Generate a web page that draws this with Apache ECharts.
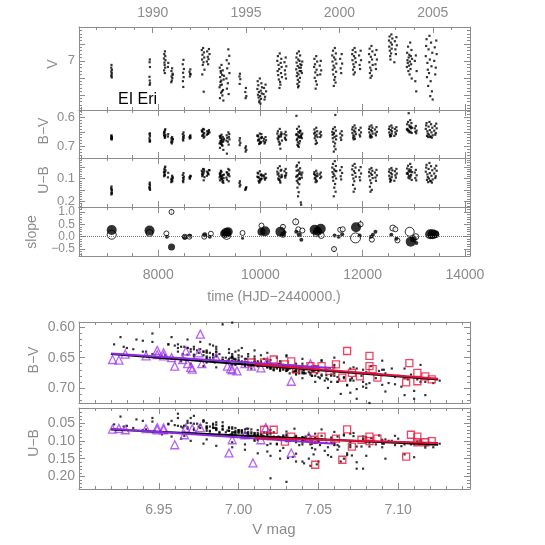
<!DOCTYPE html>
<html>
<head>
<meta charset="utf-8">
<title>EI Eri</title>
<script src="https://cdn.jsdelivr.net/npm/echarts@6/dist/echarts.min.js"></script>
<style>
  html, body { margin: 0; padding: 0; background: #fff; }
  #chart { width: 545px; height: 545px; }
</style>
</head>
<body>
<div id="chart"></div>
<script>
// observations per season: [HJD-2440000, V, B-V, U-B]
const s1987 = [[7086,7.012,0.662,0.135],[7081,7.020,0.665,0.142],[7093,7.026,0.668,0.150],[7084,7.031,0.670,0.148],[7090,7.036,0.672,0.158],[7088,7.041,0.671,0.163],[7083,7.045,0.675,0.170],[7092,7.049,0.676,0.166]];
const s1989 = [[7836,6.996,0.655,0.118],[7831,7.004,0.658,0.125],[7838,7.018,0.664,0.130],[7829,7.047,0.672,0.138],[7834,7.058,0.678,0.145],[7840,7.066,0.682,0.150],[7832,7.071,0.684,0.141]];
const s1990 = [[8131,6.972,0.645,0.052],[8118,6.980,0.650,0.060],[8138,6.986,0.641,0.048],[8112,6.993,0.655,0.071],[8142,6.998,0.660,0.064],[8121,7.005,0.652,0.078],[8126,7.012,0.664,0.083],[8135,7.020,0.668,0.070],[8115,7.028,0.662,0.090],[8129,7.036,0.671,0.086],[8196,7.006,0.658,0.075],[8190,7.018,0.666,0.095],[8272,7.022,0.668,0.088],[8258,7.030,0.672,0.101],[8281,7.038,0.676,0.094],[8262,7.046,0.680,0.108],[8276,7.051,0.684,0.112],[8266,7.058,0.690,0.105],[8255,7.063,0.686,0.116],[8284,7.041,0.675,0.099]];
const s1991 = [[8494,6.997,0.652,0.076],[8480,7.010,0.658,0.085],[8502,7.024,0.663,0.092],[8486,7.035,0.667,0.098],[8498,7.048,0.671,0.104],[8483,7.060,0.676,0.110],[8490,7.077,0.680,0.116],[8628,7.025,0.662,0.088],[8612,7.032,0.668,0.095],[8634,7.040,0.670,0.090],[8618,7.046,0.673,0.101],[8624,7.038,0.665,0.094]];
const s1992 = [[8878,6.962,0.640,0.058],[8852,6.968,0.645,0.066],[8895,6.975,0.642,0.060],[8866,6.982,0.650,0.072],[8900,6.990,0.654,0.068],[8858,6.996,0.648,0.080],[8886,7.004,0.658,0.077],[8872,7.012,0.662,0.085],[8905,7.026,0.666,0.094],[8862,7.040,0.664,0.090],[8890,7.091,0.670,0.108],[8992,6.965,0.644,0.063],[8958,6.972,0.648,0.070],[9004,6.980,0.652,0.064],[8970,6.988,0.656,0.075],[8984,6.995,0.650,0.082],[8952,7.002,0.660,0.088],[8976,7.010,0.657,0.079]];
const s1993 = [[9238,7.012,0.660,0.070],[9204,7.020,0.665,0.078],[9262,7.028,0.668,0.085],[9226,7.035,0.672,0.066],[9250,7.041,0.676,0.092],[9212,7.048,0.670,0.080],[9280,7.055,0.679,0.098],[9218,7.062,0.682,0.088],[9244,7.070,0.686,0.104],[9200,7.078,0.690,0.095],[9268,7.086,0.684,0.110],[9230,7.094,0.692,0.100],[9256,7.102,0.698,0.115],[9208,7.110,0.705,0.108],[9274,7.117,0.712,0.119],[9222,7.030,0.664,0.074],[9286,7.044,0.674,0.083],[9234,7.058,0.680,0.091],[9216,7.072,0.688,0.087],[9248,7.090,0.695,0.102],[9372,6.966,0.652,0.058],[9390,6.985,0.658,0.064],[9340,6.998,0.662,0.072],[9382,7.008,0.668,0.080],[9350,7.022,0.671,0.076],[9394,7.036,0.676,0.090],[9334,7.052,0.680,0.096],[9362,7.066,0.684,0.085],[9344,7.082,0.725,0.105],[9378,7.098,0.694,0.112]];
const s1994 = [[9598,7.038,0.672,0.112],[9590,7.046,0.680,0.120],[9606,7.054,0.688,0.128],[9594,7.068,0.696,0.135],[9716,7.080,0.700,0.142],[9704,7.092,0.706,0.150],[9724,7.104,0.712,0.138],[9710,7.110,0.718,0.146]];
const s1995 = [[9988,7.052,0.656,0.068],[9946,7.060,0.662,0.075],[10018,7.066,0.658,0.082],[9958,7.072,0.666,0.078],[10030,7.078,0.670,0.088],[9940,7.083,0.664,0.092],[10006,7.088,0.672,0.085],[9970,7.092,0.676,0.096],[10024,7.096,0.668,0.100],[9952,7.100,0.680,0.094],[9994,7.104,0.684,0.104],[9964,7.108,0.678,0.110],[10012,7.112,0.686,0.102],[9982,7.117,0.690,0.114],[9976,7.122,0.692,0.118],[10000,7.126,0.688,0.108],[10100,7.070,0.668,0.080],[10070,7.080,0.674,0.090],[10110,7.090,0.679,0.097],[10060,7.098,0.682,0.086],[10090,7.106,0.686,0.105],[10080,7.114,0.690,0.099]];
const s1996 = [[10378,6.978,0.640,0.046],[10342,6.986,0.648,0.055],[10408,6.994,0.652,0.062],[10330,7.000,0.656,0.070],[10396,7.006,0.660,0.066],[10354,7.012,0.664,0.078],[10414,7.018,0.658,0.084],[10366,7.024,0.668,0.090],[10336,7.030,0.672,0.082],[10402,7.036,0.666,0.095],[10348,7.042,0.676,0.100],[10420,7.048,0.680,0.092],[10360,7.055,0.684,0.106],[10384,7.062,0.690,0.112],[10390,7.070,0.708,0.118],[10372,7.080,0.694,0.104],[10494,6.990,0.650,0.058],[10470,7.004,0.658,0.068],[10505,7.016,0.662,0.076],[10478,7.028,0.670,0.088],[10486,7.040,0.674,0.096],[10500,7.052,0.678,0.086]];
const s1997 = [[10752,6.972,0.632,0.030],[10716,6.978,0.640,0.042],[10776,6.984,0.646,0.055],[10704,6.990,0.595,0.048],[10740,6.996,0.650,0.062],[10764,7.000,0.654,0.070],[10708,7.005,0.658,0.066],[10780,7.010,0.648,0.078],[10728,7.015,0.662,0.085],[10756,7.020,0.666,0.080],[10700,7.025,0.660,0.092],[10768,7.030,0.670,0.098],[10720,7.035,0.674,0.090],[10744,7.040,0.668,0.104],[10712,7.045,0.678,0.110],[10772,7.050,0.682,0.102],[10732,7.056,0.686,0.118],[10760,7.062,0.690,0.125],[10724,7.068,0.695,0.140],[10748,7.074,0.702,0.160],[10736,7.078,0.698,0.178],[10790,7.020,0.664,0.205],[10796,7.030,0.668,0.215],[10818,7.002,0.656,0.074],[10802,7.012,0.660,0.084],[10810,7.036,0.672,0.096]];
const s1998 = [[11092,6.986,0.636,0.066],[11056,6.994,0.642,0.072],[11110,7.002,0.648,0.078],[11068,7.010,0.652,0.084],[11050,7.018,0.656,0.080],[11098,7.026,0.660,0.090],[11074,7.034,0.664,0.096],[11116,7.042,0.668,0.088],[11062,7.050,0.672,0.100],[11086,7.060,0.680,0.106],[11104,7.070,0.688,0.112],[11080,7.082,0.692,0.116],[11180,7.000,0.650,0.074],[11160,7.014,0.656,0.082],[11188,7.028,0.662,0.092],[11170,7.040,0.668,0.098]];
const s1999 = [[11455,6.962,0.634,0.024],[11420,6.970,0.640,0.036],[11475,6.978,0.646,0.045],[11405,6.984,0.650,0.052],[11440,6.990,0.654,0.060],[11465,6.996,0.592,0.066],[11410,7.002,0.660,0.072],[11485,7.008,0.664,0.068],[11430,7.014,0.658,0.080],[11450,7.020,0.668,0.088],[11415,7.026,0.672,0.094],[11480,7.032,0.676,0.100],[11425,7.040,0.684,0.110],[11460,7.048,0.690,0.124],[11445,7.056,0.700,0.140],[11470,7.064,0.710,0.158],[11435,7.074,0.718,0.178],[11590,6.980,0.648,0.050],[11560,6.994,0.656,0.064],[11598,7.008,0.662,0.076],[11570,7.022,0.670,0.090],[11580,7.036,0.678,0.104]];
const s2000 = [[11842,6.962,0.628,0.036],[11806,6.968,0.634,0.044],[11860,6.974,0.638,0.052],[11795,6.980,0.642,0.060],[11830,6.986,0.646,0.068],[11854,6.992,0.650,0.076],[11800,6.998,0.654,0.084],[11866,7.004,0.658,0.092],[11818,7.010,0.662,0.100],[11836,7.018,0.666,0.112],[11812,7.026,0.670,0.128],[11848,7.034,0.674,0.145],[11824,7.040,0.676,0.158],[11960,6.970,0.636,0.050],[11930,6.984,0.644,0.064],[11968,6.998,0.652,0.078],[11940,7.012,0.660,0.094],[11950,7.024,0.666,0.108]];
const s2001 = [[12172,6.956,0.628,0.054],[12136,6.964,0.632,0.060],[12190,6.972,0.636,0.066],[12125,6.980,0.640,0.072],[12160,6.988,0.644,0.078],[12184,6.996,0.648,0.084],[12130,7.004,0.652,0.090],[12196,7.012,0.656,0.098],[12148,7.020,0.660,0.108],[12166,7.028,0.664,0.120],[12142,7.036,0.666,0.136],[12178,7.044,0.668,0.150],[12154,7.050,0.670,0.158],[12270,6.968,0.634,0.062],[12240,6.982,0.642,0.074],[12278,6.996,0.650,0.086],[12250,7.010,0.656,0.096],[12260,7.024,0.662,0.110]];
const s2002 = [[12562,6.922,0.628,0.054],[12526,6.928,0.632,0.060],[12580,6.934,0.636,0.064],[12515,6.940,0.640,0.070],[12550,6.946,0.644,0.076],[12574,6.952,0.648,0.082],[12520,6.958,0.652,0.088],[12568,6.964,0.656,0.094],[12532,6.970,0.660,0.100],[12556,6.978,0.664,0.108],[12538,6.986,0.666,0.114],[12544,6.996,0.662,0.104],[12660,6.930,0.634,0.058],[12630,6.942,0.640,0.068],[12668,6.954,0.646,0.078],[12640,6.966,0.652,0.086],[12650,6.980,0.658,0.096],[12620,7.004,0.664,0.110]];
const s2003 = [[12930,6.946,0.610,0.036],[12888,6.958,0.616,0.044],[12954,6.968,0.620,0.050],[12870,6.976,0.624,0.056],[12912,6.982,0.628,0.060],[12942,6.986,0.632,0.064],[12900,6.990,0.586,0.068],[12966,6.994,0.636,0.072],[12876,6.998,0.640,0.076],[12924,7.002,0.634,0.070],[12882,7.006,0.644,0.080],[12948,7.010,0.638,0.084],[12906,7.014,0.646,0.088],[12865,7.018,0.642,0.078],[12936,7.024,0.650,0.092],[12894,7.030,0.648,0.096],[12918,7.040,0.652,0.100],[12960,7.052,0.654,0.106],[13040,6.984,0.630,0.062],[13020,7.000,0.638,0.074],[13056,7.030,0.646,0.086],[13030,7.060,0.650,0.098],[13048,7.090,0.655,0.108]];
const s2004 = [[13306,6.926,0.616,0.032],[13250,6.936,0.620,0.040],[13338,6.946,0.624,0.046],[13242,6.956,0.628,0.052],[13290,6.966,0.632,0.058],[13362,6.976,0.636,0.064],[13235,6.986,0.640,0.070],[13314,6.996,0.644,0.076],[13266,7.006,0.648,0.082],[13346,7.016,0.652,0.088],[13274,7.026,0.656,0.094],[13298,7.036,0.660,0.100],[13258,7.048,0.664,0.106],[13330,7.060,0.666,0.112],[13282,7.074,0.668,0.116],[13354,7.090,0.670,0.118],[13322,7.104,0.668,0.110],[13370,7.114,0.662,0.104],[13440,6.940,0.622,0.044],[13410,6.960,0.630,0.056],[13448,6.980,0.638,0.066],[13400,7.000,0.646,0.078],[13430,7.020,0.654,0.090],[13420,7.040,0.660,0.098]];

// colour-magnitude slopes: [HJD, slope, weight]
const slopeFilled = [[7090,0.27,10],[7830,0.25,10],[8170,0.0,4],[8260,-0.42,7],[8520,-0.02,5],[8620,0.04,4],[8910,0.08,5],[9010,0.0,4],[9290,0.12,8],[9330,0.16,10],[9370,0.2,9],[9650,-0.06,3],[10020,0.2,8],[10090,0.22,10],[10390,0.2,10],[10440,0.08,6],[10470,0.18,4],[10700,0.2,4],[10760,0.08,5],[10800,-0.12,4],[11060,0.28,10],[11120,0.22,9],[11180,0.32,10],[11450,0.05,4],[11530,0.0,4],[11600,0.1,4],[11870,0.38,10],[11940,0.05,4],[12160,0.0,4],[12200,0.08,4],[12250,0.2,4],[12560,0.08,4],[12660,-0.08,4],[12940,-0.2,10],[12990,-0.08,7],[13050,-0.25,4],[13320,0.1,10],[13370,0.1,10],[13420,0.1,8]];
const slopeOpen = [[7090,0.08,9],[7830,0.15,7],[8160,0.13,5],[8260,1.0,5],[8520,0.0,5],[8610,0.0,5],[8900,0.0,5],[9030,0.12,5],[9340,0.05,8],[9650,0.15,5],[10020,0.45,5],[10440,0.4,5],[10690,0.6,6],[10740,0.3,5],[10820,0.25,5],[11090,0.12,6],[11190,0.05,6],[11440,-0.5,5],[11560,0.28,5],[11610,0.3,5],[11860,-0.05,10],[11960,0.5,5],[12180,-0.12,5],[12590,0.35,6],[12640,0.3,5],[12680,-0.15,5],[12920,0.2,9],[13040,0.0,6],[13440,0.1,5]];
const slopeErr = [[8260,0.9,1.1],[10690,0.5,0.75],[10440,0.35,0.5],[11440,-0.62,-0.4],[11960,0.4,0.65]];

// lower panels: season means (triangles = bright, squares = faint) and fits
const bvTriangles = [[6.921,0.653],[6.925,0.654],[6.929,0.644],[6.942,0.647],[6.949,0.638],[6.949,0.645],[6.953,0.642],[6.953,0.647],[6.958,0.650],[6.960,0.664],[6.965,0.653],[6.967,0.639],[6.968,0.660],[6.970,0.666],[6.971,0.669],[6.975,0.642],[6.976,0.611],[6.977,0.660],[6.986,0.650],[6.993,0.664],[6.995,0.668],[6.996,0.670],[6.999,0.672],[7.004,0.660],[7.008,0.664],[7.014,0.667],[7.018,0.656],[7.033,0.689],[7.045,0.660]];
const bvSquares = [[7.008,0.658],[7.016,0.658],[7.022,0.653],[7.029,0.661],[7.033,0.656],[7.036,0.669],[7.045,0.664],[7.048,0.669],[7.052,0.664],[7.057,0.672],[7.061,0.661],[7.065,0.683],[7.068,0.639],[7.071,0.675],[7.076,0.681],[7.082,0.647],[7.082,0.664],[7.084,0.669],[7.087,0.683],[7.105,0.691],[7.107,0.659],[7.112,0.675],[7.112,0.689],[7.117,0.681],[7.121,0.686]];
const ubTriangles = [[6.921,0.067],[6.925,0.065],[6.929,0.069],[6.942,0.066],[6.949,0.063],[6.949,0.069],[6.953,0.064],[6.953,0.069],[6.960,0.111],[6.966,0.083],[6.967,0.064],[6.971,0.066],[6.976,0.063],[6.994,0.134],[6.996,0.097],[7.004,0.083],[7.009,0.162],[7.014,0.097],[7.017,0.063],[7.033,0.134],[7.044,0.088]];
const ubSquares = [[7.016,0.069],[7.022,0.069],[7.029,0.102],[7.033,0.088],[7.047,0.097],[7.048,0.167],[7.052,0.088],[7.061,0.094],[7.065,0.153],[7.068,0.068],[7.071,0.116],[7.077,0.097],[7.082,0.088],[7.082,0.101],[7.087,0.094],[7.105,0.144],[7.108,0.083],[7.112,0.088],[7.112,0.104],[7.117,0.104],[7.121,0.101]];
const bvFitAll = [[6.920,0.644],[7.125,0.686]];
const bvFitViolet = [[6.920,0.643],[7.058,0.667]];
const bvFitRed = [[7.010,0.661],[7.125,0.685]];
const ubFitAll = [[6.920,0.068],[7.125,0.111]];
const ubFitViolet = [[6.920,0.066],[7.060,0.108]];
const ubFitRed = [[7.010,0.092],[7.125,0.106]];

const yearLabels = [1990, 1995, 2000, 2005];

const obs = [].concat(s1987, s1989, s1990, s1991, s1992, s1993, s1994, s1995, s1996,
  s1997, s1998, s1999, s2000, s2001, s2002, s2003, s2004);

const AX = '#8c8c8c';
const FONT = 'Liberation Sans';
const VIOLET = '#a23cf0';
const RED = '#e8163c';

function steps(min, max, step) {
  const out = [];
  const k0 = Math.ceil(min / step - 1e-6), k1 = Math.floor(max / step + 1e-6);
  for (let k = k0; k <= k1; k++) out.push(+(k * step).toFixed(6));
  return out;
}
function spec(min, max, major, minor, labels, fmt, inverse, fontSize, margin) {
  return { min, max, inverse: !!inverse, majorTicks: steps(min, max, major),
    minorTicks: steps(min, max, minor), labels, fmt, fontSize, margin };
}
const yearHJD = y => 7892.5 + (y - 1990) * 365.25;
const years = [];
for (let y = 1987; y <= 2006; y++) years.push(yearHJD(y));

const timeSpec = spec(6450, 14100, 2000, 500, steps(8000, 14000, 2000), v => String(v), false, 14, 12);
const yearSpec = { min: 6450, max: 14100, inverse: false, majorTicks: yearLabels.map(yearHJD),
  minorTicks: years, labels: yearLabels.map(yearHJD),
  fmt: v => String(Math.round(1990 + (v - 7892.5) / 365.25)), fontSize: 14, margin: 7 };
const vSpec = spec(6.90, 7.145, 0.05, 0.01, [7], () => '7', true, 13, 4);
const bvSpec = spec(0.575, 0.74, 0.05, 0.01, [0.6, 0.7], v => v.toFixed(1), true, 13, 4);
const ubSpec = spec(0.01, 0.225, 0.05, 0.01, [0.1, 0.2], v => v.toFixed(1), true, 13, 4);
const slSpec = spec(-0.78, 1.2, 0.5, 0.1, [-0.5, 0, 0.5, 1.0], v => v.toFixed(1).replace('-', '\u2212'), false, 12, 4);
const magSpec = spec(6.90, 7.145, 0.05, 0.01, [6.95, 7.0, 7.05, 7.1], v => v.toFixed(2), false, 14, 14);
const bv2Spec = spec(0.591, 0.725, 0.05, 0.01, [0.6, 0.65, 0.7], v => v.toFixed(2), true, 14, 4);
const ub2Spec = spec(0.008, 0.235, 0.05, 0.01, [0.05, 0.1, 0.15, 0.2], v => v.toFixed(2), true, 14, 4);

const xAxes = [], yAxes = [];
function addAxis(list, grid, pos, s, withLabels) {
  const base = { type: 'value', gridIndex: grid, position: pos, min: s.min, max: s.max,
    inverse: s.inverse, splitLine: { show: false }, axisPointer: { show: false } };
  const idx = list.length;
  list.push(Object.assign({}, base, {
    axisLine: { show: true, onZero: false, lineStyle: { color: AX, width: 1 } },
    axisTick: { show: true, inside: true, length: 6, customValues: s.majorTicks, lineStyle: { color: AX } },
    axisLabel: withLabels ? { show: true, customValues: s.labels, formatter: s.fmt, color: AX,
      fontFamily: FONT, fontSize: s.fontSize, margin: s.margin, hideOverlap: false,
      showMinLabel: true, showMaxLabel: true } : { show: false }
  }));
  list.push(Object.assign({}, base, {
    axisLine: { show: false, onZero: false },
    axisTick: { show: true, inside: true, length: 3, customValues: s.minorTicks, lineStyle: { color: AX } },
    axisLabel: { show: false }
  }));
  return idx;
}
function panel(grid, xs, xsTop, ys, xLab, xTopLab) {
  const xi = addAxis(xAxes, grid, 'bottom', xs, xLab);
  addAxis(xAxes, grid, 'top', xsTop, xTopLab);
  const yi = addAxis(yAxes, grid, 'left', ys, true);
  addAxis(yAxes, grid, 'right', ys, false);
  return [xi, yi];
}

const grids = [
  { left: 79, top: 27, width: 391, height: 83 },
  { left: 79, top: 110, width: 391, height: 48 },
  { left: 79, top: 158, width: 391, height: 49 },
  { left: 79, top: 207, width: 391, height: 49 },
  { left: 79, top: 322, width: 391, height: 81 },
  { left: 79, top: 408, width: 391, height: 81 }
];
const pV = panel(0, timeSpec, yearSpec, vSpec, false, true);
const pBV = panel(1, timeSpec, timeSpec, bvSpec, false, false);
const pUB = panel(2, timeSpec, timeSpec, ubSpec, false, false);
const pSl = panel(3, timeSpec, timeSpec, slSpec, true, false);
const pBV2 = panel(4, magSpec, magSpec, bv2Spec, false, false);
const pUB2 = panel(5, magSpec, magSpec, ub2Spec, true, false);

function dots(p, data) {
  return { type: 'scatter', xAxisIndex: p[0], yAxisIndex: p[1], data, symbol: 'rect',
    symbolSize: 2.2, itemStyle: { color: '#000' }, silent: true };
}
function open(p, data, symbol, size, color) {
  return { type: 'scatter', xAxisIndex: p[0], yAxisIndex: p[1], data, symbol, symbolSize: size,
    itemStyle: { color: 'rgba(0,0,0,0)', borderColor: color, borderWidth: 1.3 }, silent: true };
}
function fit(p, data, color) {
  return { type: 'line', xAxisIndex: p[0], yAxisIndex: p[1], data, symbol: 'none',
    lineStyle: { color, width: 2 }, silent: true };
}

const series = [
  dots(pV, obs.map(o => [o[0], o[1]])),
  dots(pBV, obs.map(o => [o[0], o[2]])),
  dots(pUB, obs.map(o => [o[0], o[3]])),
  { type: 'custom', xAxisIndex: pSl[0], yAxisIndex: pSl[1], data: slopeErr, silent: true,
    encode: { x: 0, y: [1, 2] },
    renderItem: (params, api) => {
      const a = api.coord([api.value(0), api.value(1)]);
      const b = api.coord([api.value(0), api.value(2)]);
      return { type: 'line', shape: { x1: a[0], y1: a[1], x2: b[0], y2: b[1] },
        style: { stroke: '#000', lineWidth: 1 } };
    } },
  { type: 'scatter', xAxisIndex: pSl[0], yAxisIndex: pSl[1], data: slopeOpen, symbol: 'circle',
    symbolSize: v => v[2], itemStyle: { color: '#fff', borderColor: '#000', borderWidth: 1 }, silent: true,
    markLine: { silent: true, symbol: 'none', label: { show: false },
      lineStyle: { color: '#777', type: 'dotted', width: 1 }, data: [{ yAxis: 0 }] } },
  { type: 'scatter', xAxisIndex: pSl[0], yAxisIndex: pSl[1], data: slopeFilled, symbol: 'circle',
    symbolSize: v => v[2], itemStyle: { color: '#000' }, silent: true },
  dots(pBV2, obs.map(o => [o[1], o[2]])),
  open(pBV2, bvTriangles, 'triangle', 8, VIOLET),
  open(pBV2, bvSquares, 'rect', 7, RED),
  fit(pBV2, bvFitAll, '#000'),
  fit(pBV2, bvFitViolet, '#8a2be2'),
  fit(pBV2, bvFitRed, '#e0103c'),
  dots(pUB2, obs.map(o => [o[1], o[3]])),
  open(pUB2, ubTriangles, 'triangle', 8, VIOLET),
  open(pUB2, ubSquares, 'rect', 7, RED),
  fit(pUB2, ubFitAll, '#000'),
  fit(pUB2, ubFitViolet, '#8a2be2'),
  fit(pUB2, ubFitRed, '#e0103c')
];

function title(text, x, y, rotate, size, color) {
  return { type: 'text', x, y, rotation: rotate ? Math.PI / 2 : 0, silent: true,
    style: { text, fill: color || AX, font: (size || 14) + 'px "' + FONT + '"',
      align: 'center', verticalAlign: 'middle' } };
}

const chart = echarts.init(document.getElementById('chart'));
chart.setOption({
  animation: false,
  backgroundColor: '#fff',
  grid: grids,
  xAxis: xAxes,
  yAxis: yAxes,
  series,
  graphic: [
    title('V', 53, 64, true),
    title('B\u2212V', 44, 131, true),
    title('U\u2212B', 44, 180, true),
    title('slope', 32, 232, true),
    title('time (HJD\u22122440000.)', 274, 297, false),
    title('B\u2212V', 34, 360, true),
    title('U\u2212B', 34, 443, true),
    title('V mag', 274, 530, false, 15),
    { type: 'text', x: 118, y: 100, silent: true,
      style: { text: 'EI Eri', fill: '#000', font: '16px "' + FONT + '"', align: 'left', verticalAlign: 'middle' } }
  ]
});
</script>
</body>
</html>
